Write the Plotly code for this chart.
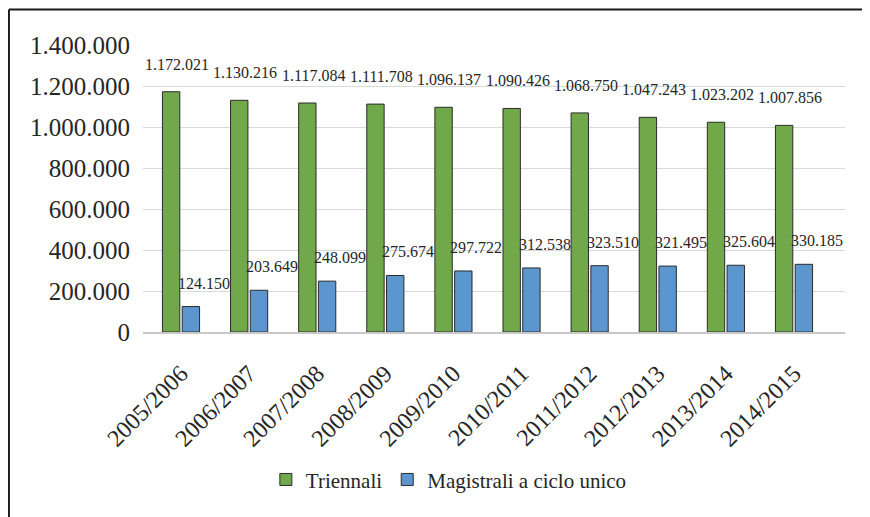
import plotly.graph_objects as go

categories = ["2005/2006", "2006/2007", "2007/2008", "2008/2009", "2009/2010",
              "2010/2011", "2011/2012", "2012/2013", "2013/2014", "2014/2015"]
triennali = [1172021, 1130216, 1117084, 1111708, 1096137, 1090426, 1068750, 1047243, 1023202, 1007856]
magistrali = [124150, 203649, 248099, 275674, 297722, 312538, 323510, 321495, 325604, 330185]
y_ticks = [0, 200000, 400000, 600000, 800000, 1000000, 1200000, 1400000]

def it(n):
    return f"{n:,}".replace(",", ".")

FONT = "Liberation Serif"
GREEN = "#70A84A"
BLUE = "#5B96CF"
TXT = "#262626"

fig = go.Figure()
fig.add_trace(go.Bar(name="Triennali", x=categories, y=triennali,
                     marker=dict(color=GREEN, line=dict(color="#2b2b2b", width=1))))
fig.add_trace(go.Bar(name="Magistrali a ciclo unico", x=categories, y=magistrali,
                     marker=dict(color=BLUE, line=dict(color="#2b2b2b", width=1))))

ann = []
for i, c in enumerate(categories):
    ann.append(dict(x=c, y=triennali[i], text=it(triennali[i]), xref="x", yref="y", showarrow=False,
                    xshift=-4, yshift=17, yanchor="bottom", font=dict(family=FONT, size=16, color=TXT)))
    ann.append(dict(x=c, y=magistrali[i], text=it(magistrali[i]), xref="x", yref="y", showarrow=False,
                    xshift=23, yshift=13, yanchor="bottom", font=dict(family=FONT, size=16, color=TXT)))

fig.update_layout(
    width=870, height=517,
    margin=dict(l=135, r=33, t=37, b=193, autoexpand=False),
    paper_bgcolor="white", plot_bgcolor="white",
    barmode="group", bargap=0.42, bargroupgap=0.12,
    font=dict(family=FONT, color=TXT),
    annotations=ann,
    showlegend=True,
    legend=dict(orientation="h", x=0.175, xanchor="left", y=-0.515, yanchor="middle",
                font=dict(family=FONT, size=21, color=TXT), itemwidth=30),
    shapes=[
        dict(type="line", xref="paper", yref="paper", x0=-0.191, x1=1.1, y0=1.1237, y1=1.1237,
             line=dict(color="#1a1a1a", width=2)),
        dict(type="line", xref="paper", yref="paper", x0=-0.191, x1=-0.191, y0=1.1237, y1=-0.7,
             line=dict(color="#1a1a1a", width=2)),
    ],
)
fig.update_xaxes(tickangle=-45, tickfont=dict(family=FONT, size=24, color=TXT),
                 showline=True, linecolor="#c8c8c8", linewidth=2, showgrid=False, ticks="",
                 ticklabelstandoff=16)
fig.update_yaxes(range=[0, 1400000], tickvals=y_ticks, ticktext=[it(v) for v in y_ticks],
                 tickfont=dict(family=FONT, size=25, color=TXT),
                 showgrid=True, gridcolor="#d9d9d9", gridwidth=1, zeroline=False, showline=False,
                 ticks="", ticklabelstandoff=12)

fig.write_html("out.html")
